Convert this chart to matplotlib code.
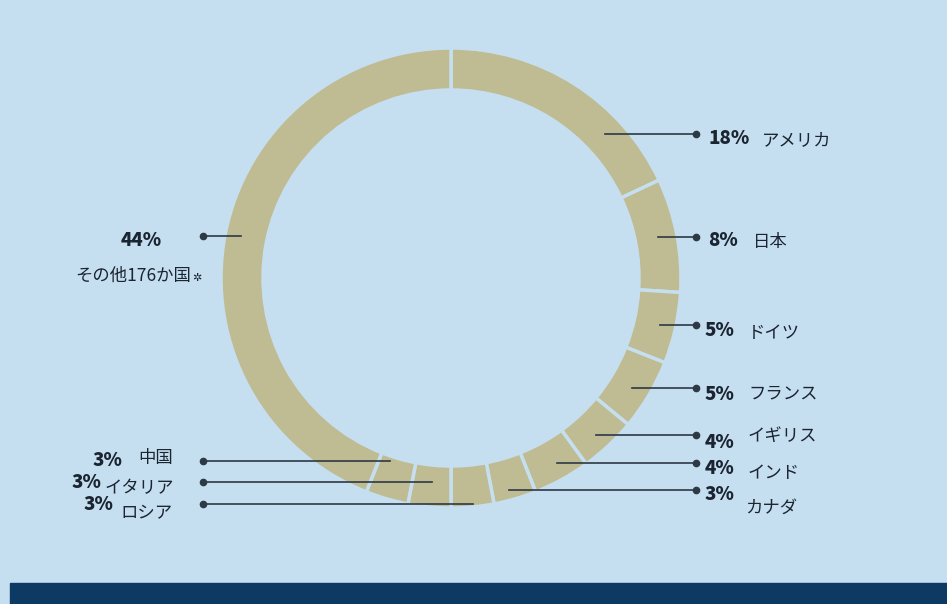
import matplotlib
matplotlib.use("Agg")
import matplotlib.pyplot as plt

# ---- data ----
countries = ['アメリカ', '日本', 'ドイツ', 'フランス', 'イギリス', 'インド',
             'カナダ', 'ロシア', 'イタリア', '中国', 'その他176か国']
shares = [18, 8, 5, 5, 4, 4, 3, 3, 3, 3, 44]

# ---- layout (pixel coords, y from top) ----
W, H = 947, 604
CX, CY, R, RING = 451, 278, 230, 42
BG = '#c6dff0'
RING_COLOR = '#bfbc93'
DARK = '#1b2531'
LINE = '#2d3945'

# leader y, leader inner x, pct pos, name pos
right_labels = {
    'アメリカ': (134, 605, (708, 138), (762, 140)),
    '日本':     (237, 658, (708, 241), (753, 242)),
    'ドイツ':   (325, 660, (705, 331), (748, 333)),
    'フランス': (388, 632, (705, 394), (748, 393)),
    'イギリス': (435, 596, (705, 443), (748, 436)),
    'インド':   (463, 557, (705, 469), (748, 473)),
    'カナダ':   (490, 509, (705, 494), (745, 508)),
}
left_labels = {
    '中国':     (461, 390, (122, 461), (173, 458)),
    'イタリア': (482, 432, (101, 483), (174, 488)),
    'ロシア':   (504, 473, (113, 505), (173, 513)),
}
DOT_R_X = 696
DOT_L_X = 203

plt.rcParams['font.family'] = ['Noto Sans CJK JP', 'DejaVu Sans']

fig = plt.figure(figsize=(W / 100, H / 100), dpi=100)
fig.patch.set_facecolor(BG)
ax = fig.add_axes([0, 0, 1, 1])
ax.set_facecolor(BG)

# ring: y axis is inverted, so start at -90 and go "counterclock" -> clockwise on screen
ax.pie(shares, center=(CX, CY), radius=R, startangle=-90, counterclock=True,
       colors=[RING_COLOR] * len(shares),
       wedgeprops=dict(width=RING, edgecolor=BG, linewidth=2.5))

ax.set_xlim(0, W)
ax.set_ylim(H, 0)
ax.set_aspect('auto')
ax.axis('off')

PCT_KW = dict(fontsize=13.5, fontweight='heavy', color=DARK, va='center')
NAME_KW = dict(fontsize=12.5, color=DARK, va='center')

for name, share in zip(countries, shares):
    pct = f'{share}%'
    if name in right_labels:
        ly, lx, ppos, npos = right_labels[name]
        ax.plot([lx, DOT_R_X], [ly, ly], color=LINE, lw=1.2, zorder=3)
        ax.plot(DOT_R_X, ly, 'o', color=LINE, ms=4.5, zorder=3)
        ax.text(*ppos, pct, ha='left', **PCT_KW)
        ax.text(*npos, name, ha='left', **NAME_KW)
    elif name in left_labels:
        ly, lx, ppos, npos = left_labels[name]
        ax.plot([DOT_L_X, lx], [ly, ly], color=LINE, lw=1.2, zorder=3)
        ax.plot(DOT_L_X, ly, 'o', color=LINE, ms=4.5, zorder=3)
        ax.text(*ppos, pct, ha='right', **PCT_KW)
        ax.text(*npos, name, ha='right', **NAME_KW)
    else:
        # その他
        ax.plot([DOT_L_X, 241], [236, 236], color=LINE, lw=1.2, zorder=3)
        ax.plot(DOT_L_X, 236, 'o', color=LINE, ms=4.5, zorder=3)
        ax.text(141, 240, pct, ha='center', **PCT_KW)
        ax.text(191, 276, name, ha='right', **NAME_KW)
        ax.text(192, 278, '✲', fontsize=8, fontweight='bold', color=DARK,
                ha='left', va='center', family=['DejaVu Sans'])

# dark band at the bottom
ax.add_patch(plt.Rectangle((10, 583), W - 10, H - 583, color='#0c3a62',
                           zorder=5, clip_on=False))

fig.savefig('out.png', dpi=100, facecolor=BG)
